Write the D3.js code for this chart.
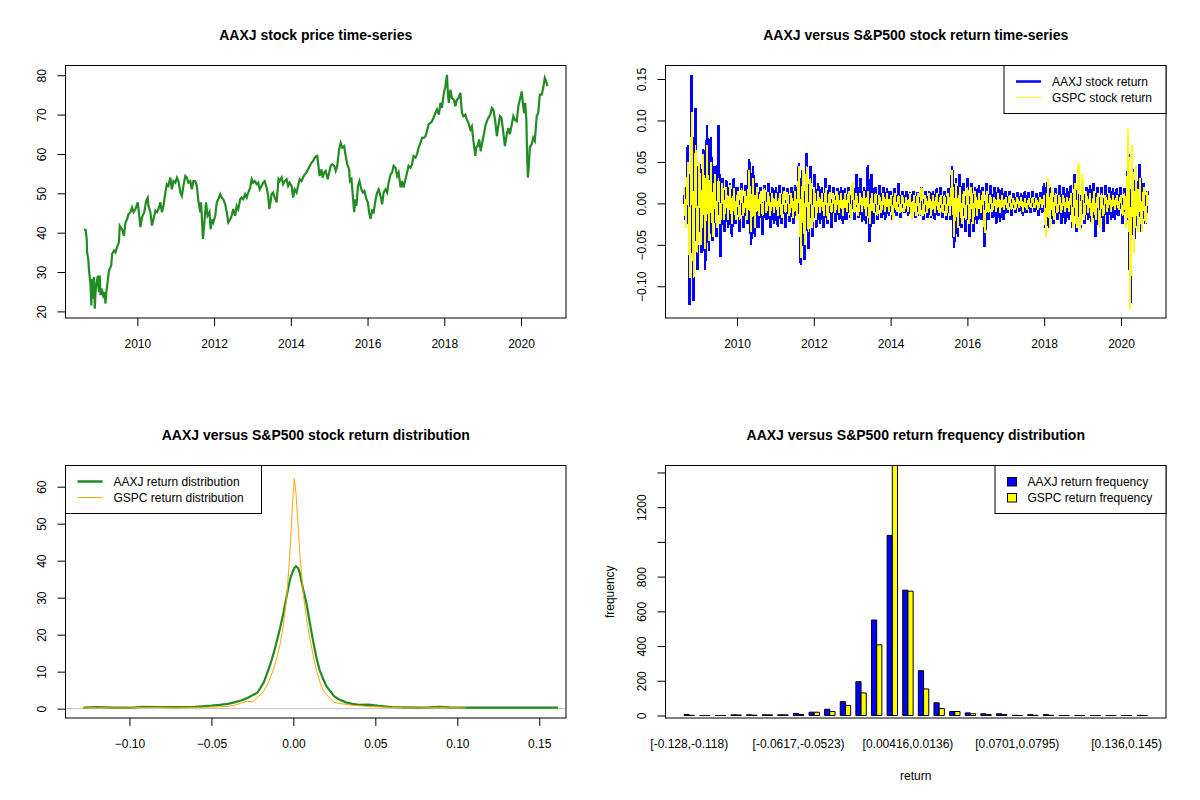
<!DOCTYPE html>
<html>
<head>
<meta charset="utf-8">
<script src="https://cdn.jsdelivr.net/npm/d3@7"></script>
<style>
  body { margin: 0; background: #fff; }
  text { font-family: "Liberation Sans", Arial, sans-serif; fill: #000; }
</style>
</head>
<body>
<div id="chart"></div>
<script>
// ---- data ----

// AAXJ closing price, dates as decimal years
const priceYears = [
  2008.61, 2008.65, 2008.68, 2008.69, 2008.72, 2008.74, 2008.78, 2008.80, 2008.82, 2008.85,
  2008.87, 2008.89, 2008.91, 2008.94, 2008.97, 2009.00, 2009.02, 2009.04, 2009.07, 2009.11,
  2009.14, 2009.17, 2009.19, 2009.23, 2009.26, 2009.32, 2009.34, 2009.39, 2009.43, 2009.47,
  2009.52, 2009.54, 2009.60, 2009.65, 2009.69, 2009.73, 2009.77, 2009.82, 2009.86, 2009.90,
  2009.95, 2010.01, 2010.03, 2010.08, 2010.12, 2010.18, 2010.23, 2010.27, 2010.29, 2010.34,
  2010.38, 2010.42, 2010.47, 2010.51, 2010.55, 2010.60, 2010.64, 2010.68, 2010.73, 2010.77,
  2010.81, 2010.86, 2010.90, 2010.94, 2010.99, 2011.03, 2011.07, 2011.12, 2011.16, 2011.20,
  2011.25, 2011.29, 2011.33, 2011.38, 2011.42, 2011.46, 2011.51, 2011.55, 2011.59, 2011.64,
  2011.66, 2011.71, 2011.74, 2011.79, 2011.83, 2011.88, 2011.91, 2011.95, 2011.98, 2012.03,
  2012.07, 2012.11, 2012.16, 2012.20, 2012.24, 2012.29, 2012.33, 2012.37, 2012.42, 2012.46,
  2012.50, 2012.55, 2012.59, 2012.63, 2012.68, 2012.72, 2012.76, 2012.81, 2012.85, 2012.89,
  2012.94, 2012.98, 2013.02, 2013.06, 2013.11, 2013.15, 2013.19, 2013.24, 2013.28, 2013.32,
  2013.37, 2013.41, 2013.44, 2013.47, 2013.50, 2013.54, 2013.58, 2013.63, 2013.65, 2013.68,
  2013.71, 2013.76, 2013.80, 2013.84, 2013.89, 2013.93, 2013.97, 2014.02, 2014.06, 2014.10,
  2014.15, 2014.19, 2014.23, 2014.28, 2014.32, 2014.36, 2014.41, 2014.45, 2014.49, 2014.54,
  2014.58, 2014.62, 2014.67, 2014.69, 2014.72, 2014.75, 2014.80, 2014.83, 2014.87, 2014.91,
  2014.96, 2015.00, 2015.04, 2015.08, 2015.13, 2015.17, 2015.21, 2015.26, 2015.30, 2015.34,
  2015.39, 2015.43, 2015.47, 2015.52, 2015.54, 2015.58, 2015.61, 2015.65, 2015.68, 2015.71,
  2015.75, 2015.79, 2015.84, 2015.88, 2015.92, 2015.97, 2016.01, 2016.04, 2016.08, 2016.12,
  2016.16, 2016.21, 2016.25, 2016.29, 2016.34, 2016.38, 2016.42, 2016.47, 2016.51, 2016.55,
  2016.60, 2016.64, 2016.68, 2016.73, 2016.77, 2016.81, 2016.86, 2016.90, 2016.94, 2016.99,
  2017.03, 2017.07, 2017.12, 2017.16, 2017.20, 2017.25, 2017.29, 2017.33, 2017.38, 2017.42,
  2017.46, 2017.51, 2017.55, 2017.59, 2017.64, 2017.68, 2017.72, 2017.77, 2017.81, 2017.86,
  2017.90, 2017.94, 2017.99, 2018.03, 2018.07, 2018.10, 2018.12, 2018.16, 2018.20, 2018.25,
  2018.29, 2018.33, 2018.37, 2018.42, 2018.46, 2018.50, 2018.55, 2018.59, 2018.63, 2018.68,
  2018.72, 2018.76, 2018.81, 2018.83, 2018.87, 2018.91, 2018.95, 2018.99, 2019.04, 2019.07,
  2019.11, 2019.15, 2019.20, 2019.24, 2019.28, 2019.33, 2019.37, 2019.41, 2019.45, 2019.49,
  2019.54, 2019.58, 2019.63, 2019.67, 2019.71, 2019.76, 2019.80, 2019.84, 2019.89, 2019.93,
  2019.97, 2020.02, 2020.04, 2020.08, 2020.11, 2020.14, 2020.16, 2020.18, 2020.21, 2020.23,
  2020.28, 2020.32, 2020.36, 2020.41, 2020.45, 2020.49, 2020.54, 2020.58, 2020.62, 2020.67,
  2020.69
];
const priceValues = [
  40.7, 40.7, 38.4, 35.0, 33.3, 30.4, 26.6, 21.5, 28.3, 23.2,
  28.7, 20.7, 24.9, 27.4, 29.1, 24.9, 29.1, 24.1, 25.8, 24.1,
  24.9, 22.0, 24.9, 27.9, 30.4, 31.7, 34.6, 35.5, 35.0, 36.3,
  37.6, 41.8, 40.9, 39.2, 42.6, 43.4, 44.7, 45.2, 46.4, 45.2,
  46.0, 47.7, 46.0, 41.4, 43.9, 45.2, 48.1, 48.9, 46.8, 45.2,
  41.8, 43.4, 45.6, 45.2, 46.0, 47.7, 45.2, 46.8, 50.2, 52.3,
  51.9, 54.0, 51.0, 53.1, 52.7, 54.0, 53.1, 50.2, 49.3, 51.9,
  54.4, 54.0, 52.7, 53.1, 51.0, 53.1, 53.1, 51.9, 48.1, 45.2,
  47.7, 38.4, 41.8, 47.7, 44.3, 45.2, 40.9, 43.4, 42.6, 44.3,
  47.7, 48.5, 49.8, 48.9, 48.5, 47.2, 45.2, 42.6, 43.4, 44.3,
  46.0, 44.3, 46.8, 46.0, 48.5, 48.9, 48.5, 49.8, 48.9, 50.2,
  51.4, 53.6, 52.7, 53.1, 52.3, 52.7, 51.0, 51.9, 52.7, 53.1,
  51.4, 49.3, 46.0, 47.7, 49.8, 50.2, 48.9, 47.7, 50.2, 53.6,
  53.1, 54.0, 52.3, 53.1, 53.6, 51.9, 52.7, 51.9, 48.9, 51.0,
  50.2, 51.9, 53.6, 53.1, 54.0, 54.8, 55.3, 56.1, 56.9, 57.8,
  58.2, 59.0, 59.5, 59.5, 57.0, 54.4, 56.1, 54.0, 55.3, 55.7,
  53.6, 55.3, 57.0, 57.4, 57.0, 55.7, 57.0, 61.2, 62.8, 61.6,
  62.0, 59.5, 57.4, 56.1, 53.1, 53.6, 50.2, 45.2, 48.5, 46.8,
  51.9, 53.1, 51.0, 50.2, 50.6, 48.5, 47.7, 45.2, 43.5, 45.6,
  45.2, 48.5, 50.2, 51.0, 49.3, 47.2, 50.2, 51.0, 50.2, 52.7,
  54.8, 55.3, 57.0, 56.5, 54.4, 55.3, 51.5, 53.1, 51.5, 53.6,
  55.3, 57.0, 56.5, 57.4, 59.5, 59.1, 59.9, 61.6, 62.8, 64.1,
  64.1, 64.5, 65.8, 67.5, 67.9, 68.3, 69.2, 70.4, 71.3, 70.0,
  73.0, 71.7, 75.5, 77.2, 80.1, 74.6, 73.0, 76.3, 74.2, 73.8,
  72.1, 73.8, 74.2, 75.5, 70.4, 69.6, 70.0, 68.7, 67.9, 66.2,
  67.0, 63.3, 59.5, 61.6, 62.0, 63.7, 60.7, 62.9, 65.4, 67.1,
  68.3, 69.2, 70.0, 71.7, 71.3, 68.3, 64.5, 67.1, 69.6, 69.2,
  65.4, 62.0, 65.0, 66.6, 65.0, 67.5, 69.6, 68.7, 68.3, 72.1,
  73.8, 75.9, 73.8, 70.4, 73.0, 68.7, 59.5, 54.0, 57.8, 61.6,
  62.5, 64.1, 63.3, 69.6, 70.4, 75.1, 75.1, 76.8, 79.3, 78.0,
  77.2
];

// daily returns, sampled evenly between these two dates (decimal years)
const returnStart = 2008.62;
const returnEnd = 2020.69;
const aaxjReturn = [
  // 2008
  0.014, -0.022, 0.07, -0.123, 0.155, -0.118, 0.115, -0.08,
  // 2009
  0.047, -0.06, 0.065, -0.08, 0.094, -0.058, 0.08, -0.045, 0.045, -0.04,
  0.094, -0.065, 0.03, -0.035, 0.028, -0.03, 0.025, -0.04, 0.03, -0.025,
  // 2010
  0.02, -0.035, 0.025, -0.03, 0.022, -0.025, 0.054, -0.05, 0.045, -0.04,
  0.025, -0.03, 0.02, -0.038, 0.022, -0.02, 0.025, -0.03, 0.02, -0.025,
  // 2011
  0.02, -0.028, 0.022, -0.025, 0.02, -0.03, 0.018, -0.022, 0.02, -0.025,
  0.022, -0.02, 0.049, -0.074, 0.04, -0.068, 0.061, -0.055, 0.045, -0.04,
  // 2012
  0.035, -0.03, 0.025, -0.025, 0.02, -0.03, 0.03, -0.025, 0.022, -0.03,
  0.02, -0.022, 0.018, -0.02, 0.02, -0.025, 0.018, -0.02, 0.02, -0.018,
  // 2013
  0.018, -0.02, 0.035, -0.018, 0.03, -0.022, 0.02, -0.025, 0.046, -0.047,
  0.035, -0.025, 0.02, -0.02, 0.022, -0.018, 0.02, -0.02, 0.018, -0.015,
  // 2014
  0.015, -0.02, 0.018, -0.015, 0.025, -0.018, 0.015, -0.012, 0.015, -0.015,
  0.014, -0.012, 0.015, -0.018, 0.013, -0.015, 0.02, -0.02, 0.015, -0.018,
  // 2015
  0.015, -0.018, 0.015, -0.02, 0.018, -0.015, 0.02, -0.018, 0.015, -0.02,
  0.018, -0.02, 0.045, -0.054, 0.03, -0.04, 0.035, -0.03, 0.025, -0.035,
  // 2016
  0.03, -0.04, 0.025, -0.035, 0.02, -0.025, 0.022, -0.02, 0.02, -0.053,
  0.025, -0.02, 0.022, -0.018, 0.02, -0.025, 0.02, -0.022, 0.018, -0.02,
  // 2017
  0.015, -0.012, 0.015, -0.015, 0.012, -0.012, 0.014, -0.01, 0.012, -0.015,
  0.015, -0.012, 0.013, -0.012, 0.015, -0.01, 0.012, -0.015, 0.014, -0.012,
  // 2018
  0.025, -0.035, 0.028, -0.03, 0.02, -0.025, 0.018, -0.02, 0.022, -0.025,
  0.02, -0.025, 0.018, -0.02, 0.022, -0.03, 0.035, -0.035, 0.025, -0.03,
  // 2019
  0.025, -0.025, 0.02, -0.02, 0.022, -0.025, 0.025, -0.04, 0.02, -0.025,
  0.02, -0.035, 0.022, -0.025, 0.02, -0.02, 0.018, -0.02, 0.018, -0.015,
  // 2020
  0.02, -0.025, 0.018, -0.02, 0.06, -0.12, 0.045, -0.05, 0.035, -0.03,
  0.048, -0.035, 0.025, -0.025, 0.015
];
const gspcReturn = [
  // 2008
  0.02, -0.03, 0.05, -0.09, 0.11, -0.09, 0.07, -0.06,
  // 2009
  0.05, -0.05, 0.06, -0.055, 0.07, -0.045, 0.05, -0.04, 0.035, -0.03,
  0.03, -0.025, 0.025, -0.02, 0.02, -0.02, 0.022, -0.025, 0.018, -0.02,
  // 2010
  0.015, -0.02, 0.018, -0.015, 0.015, -0.02, 0.04, -0.035, 0.03, -0.03,
  0.02, -0.015, 0.015, -0.015, 0.018, -0.012, 0.014, -0.015, 0.012, -0.012,
  // 2011
  0.012, -0.015, 0.012, -0.018, 0.015, -0.012, 0.014, -0.015, 0.012, -0.018,
  0.015, -0.02, 0.045, -0.066, 0.04, -0.05, 0.045, -0.035, 0.03, -0.03,
  // 2012
  0.02, -0.02, 0.015, -0.012, 0.012, -0.015, 0.018, -0.02, 0.014, -0.012,
  0.012, -0.012, 0.015, -0.012, 0.012, -0.015, 0.012, -0.01, 0.015, -0.018,
  // 2013
  0.025, -0.012, 0.012, -0.015, 0.012, -0.01, 0.015, -0.015, 0.015, -0.025,
  0.012, -0.012, 0.012, -0.015, 0.01, -0.012, 0.012, -0.01, 0.012, -0.01,
  // 2014
  0.01, -0.02, 0.012, -0.01, 0.01, -0.012, 0.01, -0.01, 0.008, -0.01,
  0.012, -0.02, 0.01, -0.015, 0.012, -0.015, 0.02, -0.015, 0.01, -0.012,
  // 2015
  0.012, -0.015, 0.01, -0.012, 0.012, -0.012, 0.01, -0.012, 0.01, -0.015,
  0.012, -0.015, 0.04, -0.04, 0.025, -0.03, 0.02, -0.025, 0.015, -0.02,
  // 2016
  0.02, -0.025, 0.02, -0.025, 0.015, -0.015, 0.012, -0.012, 0.015, -0.036,
  0.015, -0.012, 0.01, -0.01, 0.008, -0.01, 0.012, -0.012, 0.01, -0.008,
  // 2017
  0.008, -0.008, 0.01, -0.008, 0.006, -0.008, 0.008, -0.006, 0.008, -0.01,
  0.006, -0.008, 0.006, -0.006, 0.008, -0.006, 0.006, -0.008, 0.008, -0.006,
  // 2018
  0.01, -0.041, 0.03, -0.03, 0.02, -0.02, 0.012, -0.012, 0.01, -0.012,
  0.01, -0.01, 0.008, -0.01, 0.012, -0.03, 0.025, -0.03, 0.05, -0.033,
  // 2019
  0.035, -0.02, 0.015, -0.012, 0.012, -0.025, 0.015, -0.02, 0.012, -0.03,
  0.012, -0.015, 0.01, -0.01, 0.012, -0.01, 0.01, -0.008, 0.01, -0.008,
  // 2020
  0.01, -0.015, 0.012, -0.03, 0.09, -0.127, 0.07, -0.06, 0.045, -0.035,
  0.03, -0.035, 0.02, -0.025, 0.015
];

// kernel density estimates
const densityX = [
  -0.128, -0.12, -0.11, -0.1, -0.092, -0.082, -0.072, -0.06, -0.05, -0.045,
  -0.04, -0.036, -0.032, -0.028, -0.025, -0.022, -0.02, -0.018, -0.016, -0.014,
  -0.012, -0.01, -0.008, -0.006, -0.004, -0.002, -0.001, 0, 0.0006, 0.0016,
  0.003, 0.004, 0.006, 0.008, 0.01, 0.012, 0.014, 0.016, 0.018, 0.02,
  0.022, 0.025, 0.028, 0.032, 0.036, 0.04, 0.046, 0.052, 0.06, 0.068,
  0.076, 0.083, 0.089, 0.095, 0.105, 0.12, 0.14, 0.1614
];
const aaxjDensity = [
  0.25, 0.45, 0.25, 0.25, 0.5, 0.45, 0.4, 0.5, 0.8, 1.0,
  1.3, 1.7, 2.2, 2.9, 3.6, 4.3, 5.7, 7.2, 9.6, 12.1,
  15.0, 18.4, 22.0, 26.0, 30.7, 35.0, 36.3, 37.4, 38.0, 38.5,
  37.9, 36.5, 32.2, 28.5, 23.3, 18.4, 13.9, 10.5, 8.2, 6.2,
  5.0, 3.3, 2.5, 1.7, 1.3, 1.0, 1.1, 0.75, 0.45, 0.35,
  0.3, 0.35, 0.5, 0.35, 0.3, 0.3, 0.25, 0.25
];
const gspcDensity = [
  0.2, 0.25, 0.2, 0.2, 0.35, 0.3, 0.25, 0.35, 0.4, 0.5,
  0.6, 0.9, 1.5, 2.0, 1.8, 3.0, 3.8, 4.8, 6.4, 8.4,
  10.8, 13.9, 17.6, 23.0, 30.4, 43.0, 51.5, 59.0, 62.2, 58.1,
  48.8, 41.4, 31.1, 24.4, 19.0, 14.7, 10.5, 7.5, 5.1, 3.9,
  2.9, 1.7, 1.4, 1.2, 0.9, 0.8, 0.6, 0.5, 0.35, 0.25,
  0.2, 0.25, 0.35, 0.25, 0.2, null, null, null
];
// x limits of the density plot (taken from the AAXJ density range) and y top
const densityXLimits = [-0.1277, 0.155];
const densityYMax = 63.2;

// return frequency table, 30 bins
const binLabels = [
  "[-0.128,-0.118)", "[-0.118,-0.109)", "[-0.109,-0.0994)", "[-0.0994,-0.09)", "[-0.09,-0.0806)",
  "[-0.0806,-0.0712)", "[-0.0712,-0.0617)", "[-0.0617,-0.0523)", "[-0.0523,-0.0429)", "[-0.0429,-0.0335)",
  "[-0.0335,-0.0241)", "[-0.0241,-0.0147)", "[-0.0147,-0.00525)", "[-0.00525,0.00416)", "[0.00416,0.0136)",
  "[0.0136,0.023)", "[0.023,0.0324)", "[0.0324,0.0418)", "[0.0418,0.0512)", "[0.0512,0.0607)",
  "[0.0607,0.0701)", "[0.0701,0.0795)", "[0.0795,0.0889)", "[0.0889,0.0983)", "[0.0983,0.108)",
  "[0.108,0.117)", "[0.117,0.127)", "[0.127,0.136)", "[0.136,0.145)", "[0.145,0.155]"
];
const shownBinLabels = [0, 7, 14, 21, 28];   // the ones R had room for
const aaxjFreq = [6, 0, 0, 4, 4, 4, 4, 12, 19, 36, 80, 195, 550, 1037, 722, 258, 73, 23, 15, 10, 10, 1, 5, 5, 0, 0, 0, 0, 0, 1];
const gspcFreq = [1, 0, 0, 3, 2, 4, 4, 6, 19, 23, 58, 130, 407, 1440, 716, 153, 40, 23, 10, 5, 6, 0, 1, 1, 0, 0, 0, 0, 0, 0];

// tick values / labels
const yearTicks = [2010, 2012, 2014, 2016, 2018, 2020];
const priceTicks = [20, 30, 40, 50, 60, 70, 80];
const returnTicks = [-0.10, -0.05, 0.00, 0.05, 0.10, 0.15];
const densityXTicks = [-0.10, -0.05, 0.00, 0.05, 0.10, 0.15];
const densityYTicks = [0, 10, 20, 30, 40, 50, 60];
const freqTicks = [0, 200, 400, 600, 800, 1000, 1200, 1400];
const freqTickLabels = ["0", "200", "400", "600", "800", "", "1200", ""];

// ---- layout ----
const FONT = '"Liberation Sans", Arial, sans-serif';
const margin = { top: 65.5, right: 34, bottom: 82, left: 65.5 },
    pw = 600 - margin.left - margin.right,
    ph = 400 - margin.top - margin.bottom;

const svg = d3.select("#chart").append("svg")
    .attr("width", 1200)
    .attr("height", 800);

// R pads the data range by 4% on each side
function rPad(ext) {
    const d = (ext[1] - ext[0]) * 0.04;
    return [ext[0] - d, ext[1] + d];
}

function makePanel(col, row, title) {
    const g = svg.append("g")
        .attr("transform", `translate(${col * 600 + margin.left},${row * 400 + margin.top})`);
    g.append("text")
        .attr("x", pw / 2)
        .attr("y", -26)
        .attr("text-anchor", "middle")
        .style("font-size", "14px")
        .style("font-weight", "bold")
        .text(title);
    return g;
}

function frame(g) {
    g.append("rect")
        .attr("width", pw)
        .attr("height", ph)
        .attr("fill", "none")
        .attr("stroke", "#000")
        .attr("stroke-width", 1);
}

function bottomAxis(g, scale, ticks, fmt) {
    g.append("g")
        .attr("transform", `translate(0,${ph})`)
        .call(d3.axisBottom(scale).tickValues(ticks).tickFormat(fmt).tickSize(8).tickSizeOuter(0))
        .call(a => a.select(".domain").remove())
        .call(a => a.selectAll("text")
            .attr("y", 29.5).attr("dy", null)
            .attr("font-size", 12).attr("font-family", FONT));
}

function leftAxis(g, scale, ticks, fmt) {
    g.append("g")
        .call(d3.axisLeft(scale).tickValues(ticks).tickFormat(fmt).tickSize(8).tickSizeOuter(0))
        .call(a => a.select(".domain").remove())
        .call(a => a.selectAll("text")
            .attr("x", 0).attr("dy", null)
            .attr("text-anchor", "middle")
            .attr("transform", "translate(-20,0) rotate(-90)")
            .attr("font-size", 12).attr("font-family", FONT));
}

// legend box in the top corner: lines, or filled squares for the barplot
function legend(g, x0, boxW, items, squares) {
    const lg = g.append("g").attr("transform", `translate(${x0},0)`);
    lg.append("rect")
        .attr("width", boxW).attr("height", 48)
        .attr("fill", "#fff").attr("stroke", "#000");
    items.forEach((it, i) => {
        const cy = 16 + i * 16;
        if (squares) {
            lg.append("rect")
                .attr("x", 12.5).attr("y", cy - 4).attr("width", 9).attr("height", 8.5)
                .attr("fill", it.color).attr("stroke", "#000");
            lg.append("text").attr("x", 32.5).attr("y", cy + 4.3)
                .style("font-size", "12px").text(it.label);
        } else {
            lg.append("line")
                .attr("x1", 12).attr("x2", 37).attr("y1", cy).attr("y2", cy)
                .attr("stroke", it.color).attr("stroke-width", it.width);
            lg.append("text").attr("x", 48).attr("y", cy + 4.3)
                .style("font-size", "12px").text(it.label);
        }
    });
}

// ---- panel 1: price ----
{
    const g = makePanel(0, 0, "AAXJ stock price time-series");
    const x = d3.scaleLinear().domain(rPad(d3.extent(priceYears))).range([0, pw]);
    const y = d3.scaleLinear().domain(rPad(d3.extent(priceValues))).range([ph, 0]);

    const line = d3.line()
        .x((d, i) => x(priceYears[i]))
        .y(d => y(d));

    g.append("path")
        .datum(priceValues)
        .attr("fill", "none")
        .attr("stroke", "#228B22")
        .attr("stroke-width", 2.2)
        .attr("d", line);

    frame(g);
    bottomAxis(g, x, yearTicks, d3.format("d"));
    leftAxis(g, y, priceTicks, d3.format("d"));
}

// ---- panel 2: returns ----
{
    const g = makePanel(1, 0, "AAXJ versus S&P500 stock return time-series");
    const n = aaxjReturn.length;
    const retYear = i => returnStart + i * (returnEnd - returnStart) / (n - 1);

    const x = d3.scaleLinear().domain(rPad([returnStart, returnEnd])).range([0, pw]);
    const y = d3.scaleLinear()
        .domain(rPad(d3.extent(aaxjReturn.concat(gspcReturn))))
        .range([ph, 0]);

    const line = d3.line()
        .x((d, i) => x(retYear(i)))
        .y(d => y(d));

    // aliased like the R png device, so the two colours do not blend
    g.append("path")
        .datum(aaxjReturn)
        .attr("fill", "none")
        .attr("stroke", "#0000FF")
        .attr("stroke-width", 2.6)
        .attr("shape-rendering", "crispEdges")
        .attr("d", line);

    g.append("path")
        .datum(gspcReturn)
        .attr("fill", "none")
        .attr("stroke", "#FFFF00")
        .attr("stroke-width", 1.8)
        .attr("shape-rendering", "crispEdges")
        .attr("d", line);

    frame(g);
    bottomAxis(g, x, yearTicks, d3.format("d"));
    leftAxis(g, y, returnTicks, d3.format(".2f"));

    legend(g, pw - 162, 162, [
        { label: "AAXJ stock return", color: "#0000FF", width: 2.5 },
        { label: "GSPC stock return", color: "#FFFF00", width: 1 }
    ]);
}

// ---- panel 3: density ----
{
    const g = makePanel(0, 1, "AAXJ versus S&P500 stock return distribution");
    const x = d3.scaleLinear().domain(rPad(densityXLimits)).range([0, pw]);
    const y = d3.scaleLinear().domain(rPad([0, densityYMax])).range([ph, 0]);

    g.append("line")
        .attr("x1", 0).attr("x2", pw)
        .attr("y1", y(0)).attr("y2", y(0))
        .attr("stroke", "#BEBEBE");

    const line = d3.line()
        .defined(d => d != null)
        .x((d, i) => x(densityX[i]))
        .y(d => y(d));

    g.append("path")
        .datum(aaxjDensity)
        .attr("fill", "none")
        .attr("stroke", "#228B22")
        .attr("stroke-width", 2.2)
        .attr("d", line);

    g.append("path")
        .datum(gspcDensity)
        .attr("fill", "none")
        .attr("stroke", "#FFA500")
        .attr("stroke-width", 1)
        .attr("d", line);

    frame(g);
    bottomAxis(g, x, densityXTicks, d3.format(".2f"));
    leftAxis(g, y, densityYTicks, d3.format("d"));

    legend(g, 0, 196, [
        { label: "AAXJ return distribution", color: "#228B22", width: 2.5 },
        { label: "GSPC return distribution", color: "#FFA500", width: 1 }
    ]);
}

// ---- panel 4: frequency barplot ----
{
    const g = makePanel(1, 1, "AAXJ versus S&P500 return frequency distribution");
    const nb = binLabels.length;
    // beside=TRUE layout: each group = space 1 + two bars of width 1
    const x = d3.scaleLinear().domain(rPad([1, 3 * nb])).range([0, pw]);
    const maxF = d3.max(aaxjFreq.concat(gspcFreq));
    const y = d3.scaleLinear().domain([-0.01 * maxF, maxF]).range([ph, 0]);

    const series = [
        { values: aaxjFreq, offset: 1, color: "#0000FF" },
        { values: gspcFreq, offset: 2, color: "#FFFF00" }
    ];

    // paths instead of rects so empty bins still show their outline
    series.forEach(s => {
        g.selectAll(null)
            .data(s.values)
            .enter()
            .append("path")
            .attr("d", (d, i) => {
                const x0 = x(3 * i + s.offset), x1 = x(3 * i + s.offset + 1);
                return `M${x0},${y(0)}H${x1}V${y(d)}H${x0}Z`;
            })
            .attr("fill", s.color)
            .attr("stroke", "#000")
            .attr("stroke-width", 1);
    });

    frame(g);
    leftAxis(g, y, freqTicks, (d, i) => freqTickLabels[i]);

    g.selectAll(".binlab")
        .data(shownBinLabels)
        .enter()
        .append("text")
        .attr("class", "binlab")
        .attr("x", i => x(3 * i + 2))
        .attr("y", ph + 29.5)
        .attr("text-anchor", "middle")
        .style("font-size", "12px")
        .text(i => binLabels[i]);

    g.append("text")
        .attr("x", pw / 2)
        .attr("y", 314.5)
        .attr("text-anchor", "middle")
        .style("font-size", "12px")
        .text("return");

    g.append("text")
        .attr("transform", `translate(-51.5,${ph / 2}) rotate(-90)`)
        .attr("text-anchor", "middle")
        .style("font-size", "12px")
        .text("frequency");

    legend(g, pw - 171, 171, [
        { label: "AAXJ return frequency", color: "#0000FF" },
        { label: "GSPC return frequency", color: "#FFFF00" }
    ], true);
}
</script>
</body>
</html>
